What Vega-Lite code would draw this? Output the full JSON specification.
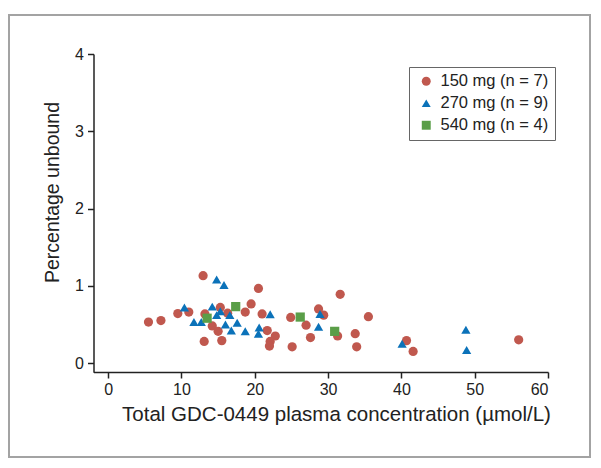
{
  "$schema": "https://vega.github.io/schema/vega-lite/v6.json",
  "width": 581,
  "height": 442,
  "autosize": {"type": "none"},
  "padding": {"left": 9, "top": 15, "right": 11, "bottom": 11},
  "background": "white",
  "config": {
    "view": {"stroke": "#a3a3a3", "strokeWidth": 2},
    "font": "Liberation Sans"
  },
  "data": {
    "values": [
      {"dose": "150 mg (n = 7)", "conc": 5.5, "unbound": 0.53},
      {"dose": "150 mg (n = 7)", "conc": 7.2, "unbound": 0.55},
      {"dose": "150 mg (n = 7)", "conc": 9.5, "unbound": 0.64},
      {"dose": "150 mg (n = 7)", "conc": 11.0, "unbound": 0.66},
      {"dose": "150 mg (n = 7)", "conc": 12.95, "unbound": 1.13},
      {"dose": "150 mg (n = 7)", "conc": 13.2, "unbound": 0.635},
      {"dose": "150 mg (n = 7)", "conc": 13.1, "unbound": 0.28},
      {"dose": "150 mg (n = 7)", "conc": 14.2, "unbound": 0.48},
      {"dose": "150 mg (n = 7)", "conc": 15.0, "unbound": 0.41},
      {"dose": "150 mg (n = 7)", "conc": 15.3, "unbound": 0.72},
      {"dose": "150 mg (n = 7)", "conc": 15.5, "unbound": 0.29},
      {"dose": "150 mg (n = 7)", "conc": 16.3, "unbound": 0.645},
      {"dose": "150 mg (n = 7)", "conc": 18.7, "unbound": 0.66},
      {"dose": "150 mg (n = 7)", "conc": 19.5, "unbound": 0.765},
      {"dose": "150 mg (n = 7)", "conc": 20.5, "unbound": 0.965},
      {"dose": "150 mg (n = 7)", "conc": 21.0, "unbound": 0.635},
      {"dose": "150 mg (n = 7)", "conc": 21.7, "unbound": 0.42},
      {"dose": "150 mg (n = 7)", "conc": 22.8, "unbound": 0.35},
      {"dose": "150 mg (n = 7)", "conc": 22.1, "unbound": 0.28},
      {"dose": "150 mg (n = 7)", "conc": 22.0, "unbound": 0.22},
      {"dose": "150 mg (n = 7)", "conc": 24.9, "unbound": 0.59},
      {"dose": "150 mg (n = 7)", "conc": 25.1, "unbound": 0.21},
      {"dose": "150 mg (n = 7)", "conc": 27.0, "unbound": 0.49},
      {"dose": "150 mg (n = 7)", "conc": 27.6, "unbound": 0.33},
      {"dose": "150 mg (n = 7)", "conc": 28.7, "unbound": 0.70},
      {"dose": "150 mg (n = 7)", "conc": 29.4, "unbound": 0.62},
      {"dose": "150 mg (n = 7)", "conc": 31.3, "unbound": 0.35},
      {"dose": "150 mg (n = 7)", "conc": 31.65, "unbound": 0.89},
      {"dose": "150 mg (n = 7)", "conc": 33.7, "unbound": 0.38},
      {"dose": "150 mg (n = 7)", "conc": 33.9, "unbound": 0.21},
      {"dose": "150 mg (n = 7)", "conc": 35.5, "unbound": 0.60},
      {"dose": "150 mg (n = 7)", "conc": 40.7, "unbound": 0.29},
      {"dose": "150 mg (n = 7)", "conc": 41.6, "unbound": 0.15},
      {"dose": "150 mg (n = 7)", "conc": 56.0, "unbound": 0.30},
      {"dose": "270 mg (n = 9)", "conc": 10.4, "unbound": 0.72},
      {"dose": "270 mg (n = 9)", "conc": 11.7, "unbound": 0.53},
      {"dose": "270 mg (n = 9)", "conc": 12.7, "unbound": 0.53},
      {"dose": "270 mg (n = 9)", "conc": 14.2, "unbound": 0.73},
      {"dose": "270 mg (n = 9)", "conc": 14.8, "unbound": 1.08},
      {"dose": "270 mg (n = 9)", "conc": 15.8, "unbound": 1.01},
      {"dose": "270 mg (n = 9)", "conc": 14.8, "unbound": 0.62},
      {"dose": "270 mg (n = 9)", "conc": 15.3, "unbound": 0.67},
      {"dose": "270 mg (n = 9)", "conc": 16.6, "unbound": 0.62},
      {"dose": "270 mg (n = 9)", "conc": 16.0, "unbound": 0.50},
      {"dose": "270 mg (n = 9)", "conc": 17.6, "unbound": 0.52},
      {"dose": "270 mg (n = 9)", "conc": 16.8, "unbound": 0.42},
      {"dose": "270 mg (n = 9)", "conc": 18.7, "unbound": 0.41},
      {"dose": "270 mg (n = 9)", "conc": 20.6, "unbound": 0.46},
      {"dose": "270 mg (n = 9)", "conc": 20.5, "unbound": 0.38},
      {"dose": "270 mg (n = 9)", "conc": 22.1, "unbound": 0.63},
      {"dose": "270 mg (n = 9)", "conc": 28.9, "unbound": 0.635},
      {"dose": "270 mg (n = 9)", "conc": 28.7, "unbound": 0.47},
      {"dose": "270 mg (n = 9)", "conc": 40.1, "unbound": 0.25},
      {"dose": "270 mg (n = 9)", "conc": 48.8, "unbound": 0.43},
      {"dose": "270 mg (n = 9)", "conc": 48.9, "unbound": 0.17},
      {"dose": "540 mg (n = 4)", "conc": 13.5, "unbound": 0.58},
      {"dose": "540 mg (n = 4)", "conc": 17.4, "unbound": 0.73},
      {"dose": "540 mg (n = 4)", "conc": 26.2, "unbound": 0.595},
      {"dose": "540 mg (n = 4)", "conc": 30.9, "unbound": 0.41}
    ]
  },
  "mark": {"type": "point", "filled": true, "opacity": 1, "size": 85},
  "encoding": {
    "x": {
      "field": "conc",
      "type": "quantitative",
      "scale": {"domain": [-2, 60], "range": [84.5, 539], "nice": false, "zero": false},
      "axis": {
        "values": [0, 10, 20, 30, 40, 50, 60],
        "offset": -85,
        "title": "Total GDC-0449 plasma concentration (µmol/L)",
        "grid": false,
        "domainColor": "#222",
        "tickColor": "#222",
        "domainWidth": 1.5,
        "tickWidth": 1.5,
        "tickSize": 6,
        "labelFontSize": 16,
        "labelColor": "#222",
        "labelPadding": 3,
        "titleFontSize": 20.5,
        "titleFontWeight": "normal",
        "titleColor": "#222",
        "titlePadding": 7,
        "titleX": 327
      }
    },
    "y": {
      "field": "unbound",
      "type": "quantitative",
      "scale": {"domain": [-0.12, 4], "range": [357.3, 39], "nice": false, "zero": false},
      "axis": {
        "values": [0, 1, 2, 3, 4],
        "offset": -84.5,
        "title": "Percentage unbound",
        "grid": false,
        "domainColor": "#222",
        "tickColor": "#222",
        "domainWidth": 1.5,
        "tickWidth": 1.5,
        "tickSize": 6,
        "labelFontSize": 16,
        "labelColor": "#222",
        "labelPadding": 4,
        "titleFontSize": 19.5,
        "titleFontWeight": "normal",
        "titleColor": "#222",
        "titlePadding": 12,
        "titleY": 177
      }
    },
    "color": {
      "field": "dose",
      "type": "nominal",
      "scale": {
        "domain": ["150 mg (n = 7)", "270 mg (n = 9)", "540 mg (n = 4)"],
        "range": ["#c0584e", "#0b72b9", "#5a9e48"]
      },
      "legend": {
        "orient": "none",
        "legendX": 400,
        "legendY": 52,
        "title": null,
        "strokeColor": "#666",
        "padding": 6,
        "labelFontSize": 16.5,
        "labelColor": "#222",
        "symbolSize": 80,
        "symbolOffset": 3,
        "rowPadding": 5,
        "labelOffset": 6,
        "symbolOpacity": 1
      }
    },
    "shape": {
      "field": "dose",
      "type": "nominal",
      "scale": {
        "domain": ["150 mg (n = 7)", "270 mg (n = 9)", "540 mg (n = 4)"],
        "range": ["circle", "triangle-up", "square"]
      }
    }
  }
}
